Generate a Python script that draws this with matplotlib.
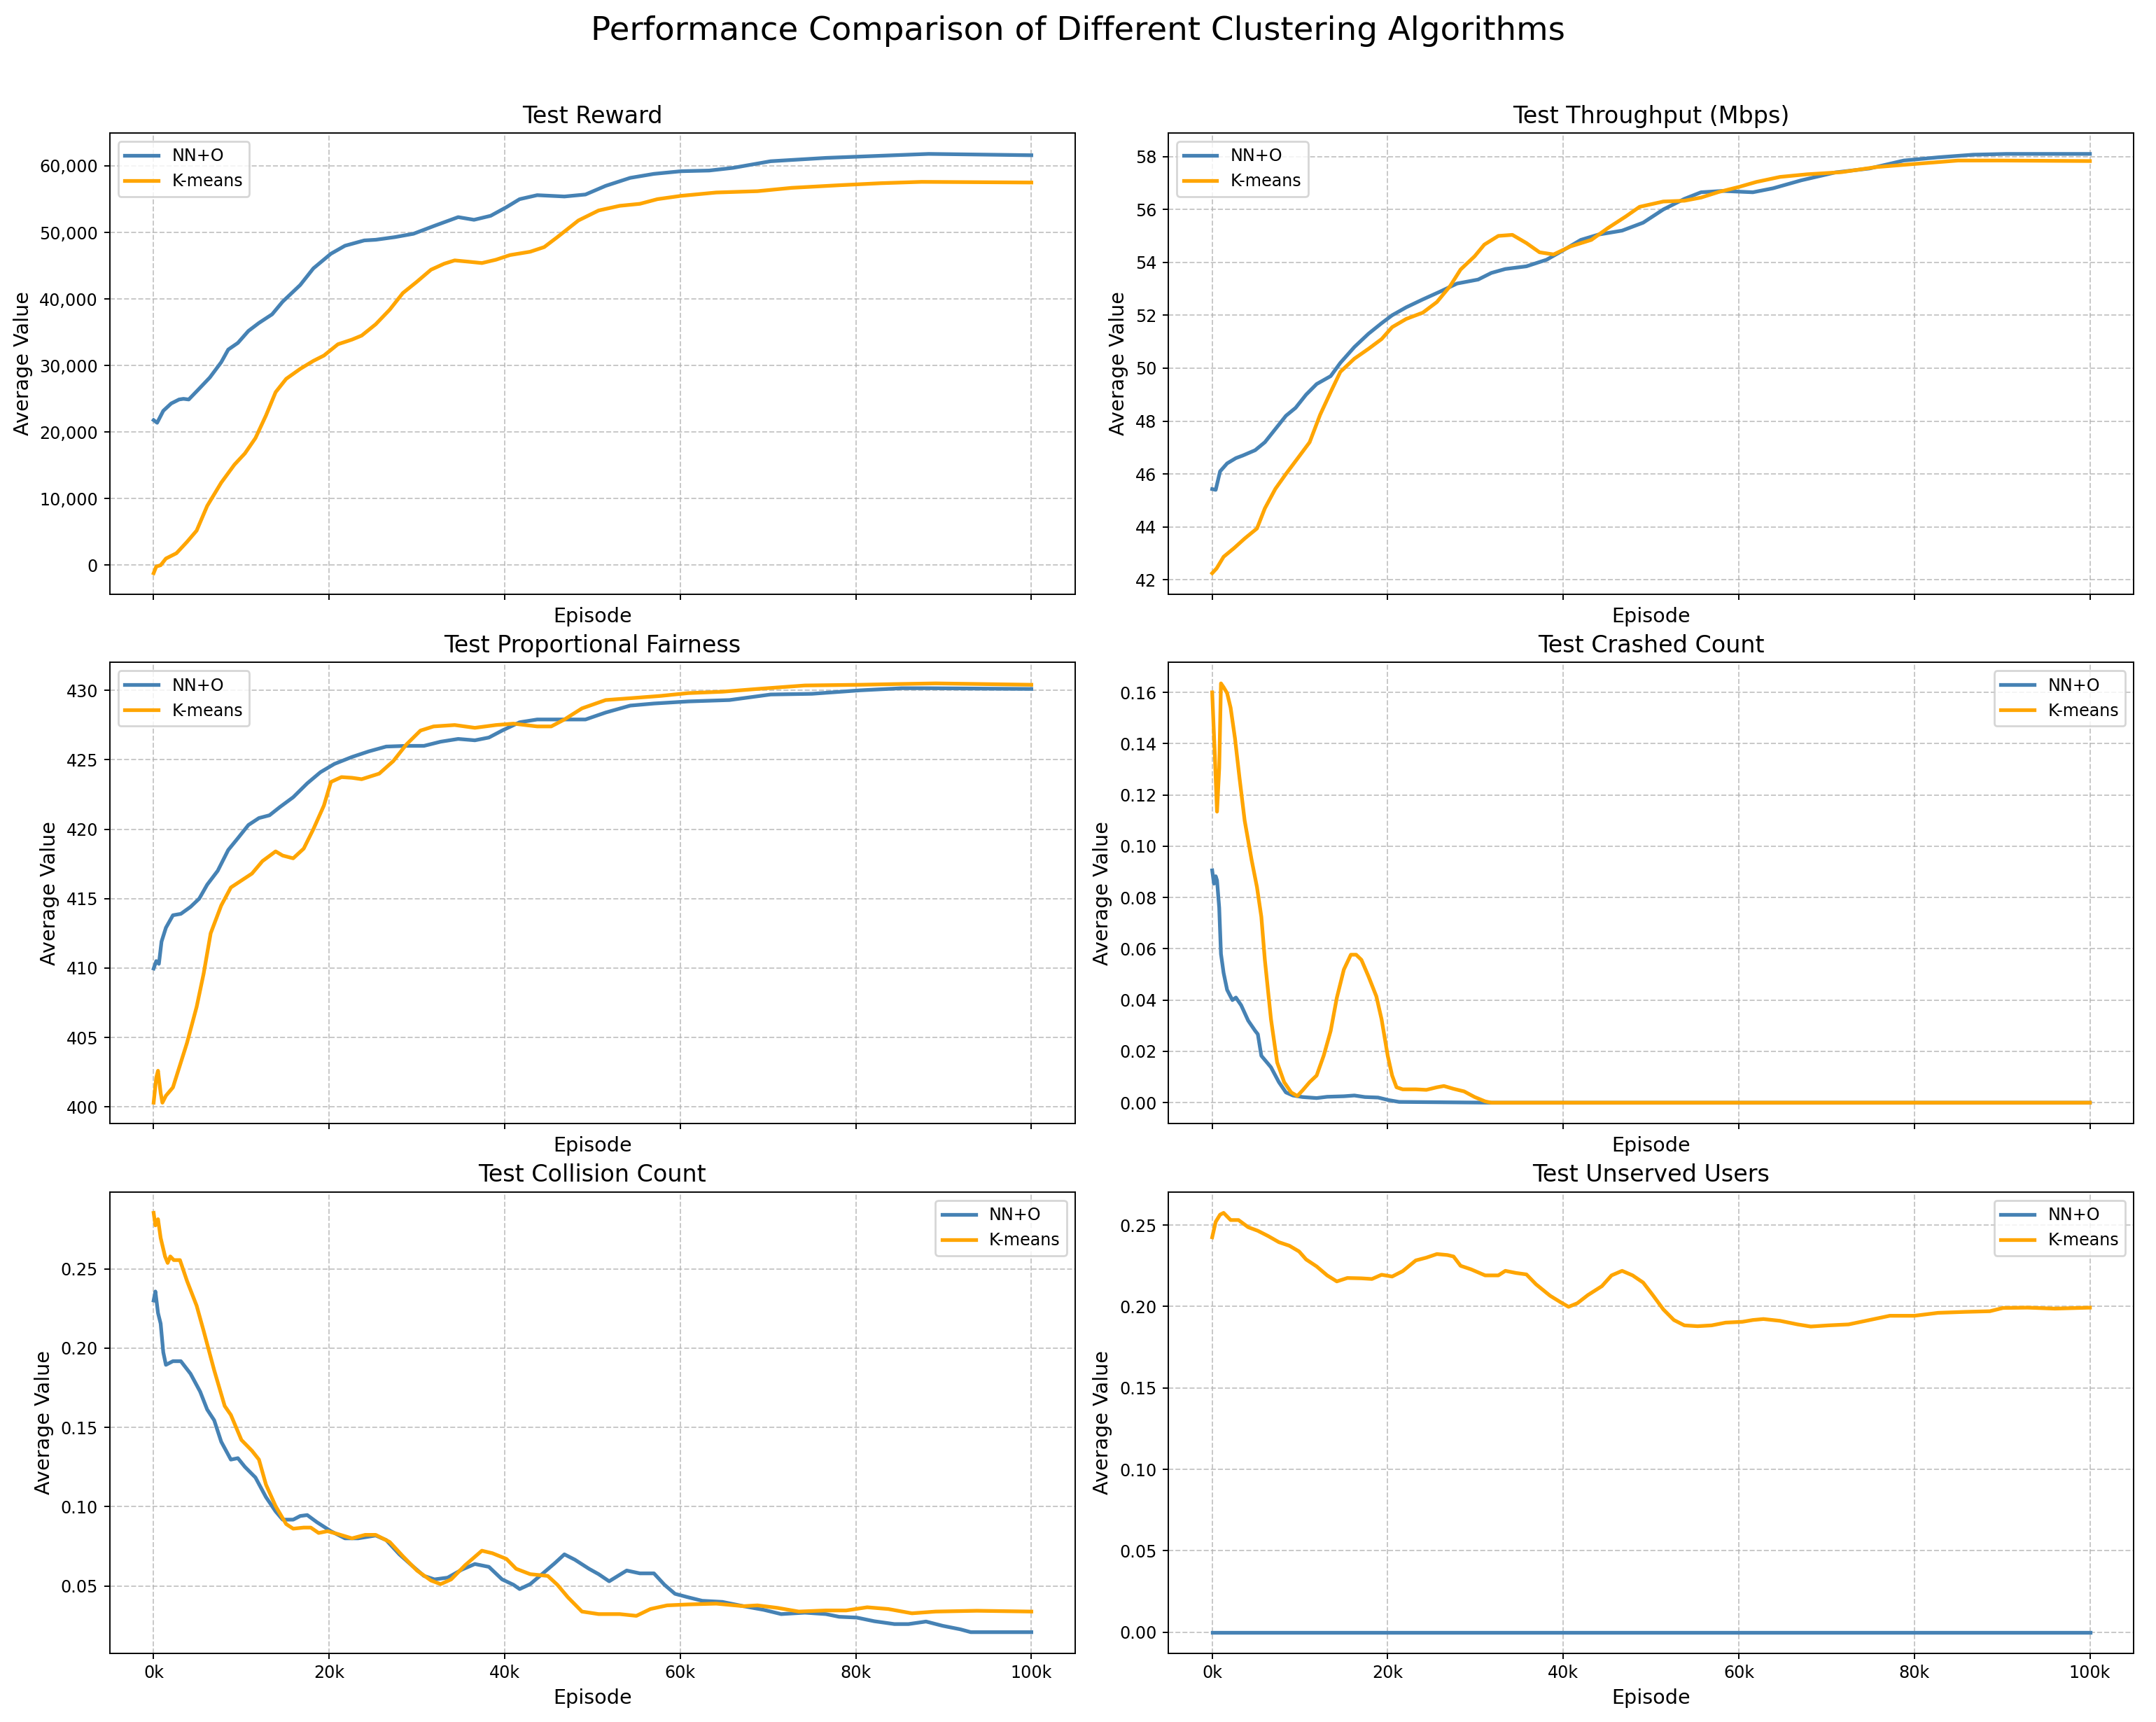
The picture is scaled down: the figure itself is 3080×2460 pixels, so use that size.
import matplotlib
matplotlib.use("Agg")
import matplotlib.pyplot as plt
from matplotlib.ticker import FuncFormatter

# ---------------- data (episode in thousands) ----------------
reward_nn_x = [0, 0.4, 1.1, 2.0, 2.9, 3.4, 4.0, 5.1, 6.4, 7.7, 8.5, 9.6, 10.8, 12.0, 13.5, 14.7, 16.7, 18.2, 20.2,
               21.8, 24.0, 25.3, 27.5, 29.6, 32.0, 34.7, 36.5, 38.4, 40.2, 41.7, 43.7, 46.8, 49.2, 51.5, 54.3, 57.0,
               60.1, 63.3, 66.0, 70.3, 76.6, 80.5, 84.4, 88.3, 100]
reward_nn_y = [21800, 21400, 23200, 24300, 24900, 25000, 24900, 26400, 28200, 30500, 32400, 33400, 35200, 36400,
               37700, 39600, 42100, 44600, 46800, 48000, 48800, 48900, 49300, 49800, 51000, 52300, 51900, 52500,
               53800, 55000, 55600, 55400, 55700, 57000, 58200, 58800, 59200, 59300, 59700, 60700, 61200, 61400,
               61600, 61800, 61600]
reward_km_x = [0, 0.3, 0.8, 1.4, 2.6, 3.8, 4.9, 6.1, 7.7, 9.2, 10.4, 11.6, 12.8, 13.9, 15.1, 16.7, 18.2, 19.4, 21.0,
               22.6, 23.7, 25.3, 26.9, 28.4, 30.0, 31.6, 33.1, 34.3, 35.9, 37.4, 39.0, 40.6, 42.9, 44.5, 46.0, 48.4,
               50.7, 53.1, 55.4, 57.4, 60.1, 64.1, 68.8, 72.7, 78.2, 82.9, 87.5, 100]
reward_km_y = [-1200, -200, 0, 1000, 1800, 3500, 5200, 8900, 12400, 15100, 16800, 19100, 22500, 26000, 28000,
               29500, 30700, 31500, 33200, 33900, 34500, 36200, 38400, 40900, 42600, 44400, 45300, 45800, 45600,
               45400, 45900, 46600, 47100, 47800, 49300, 51800, 53300, 54000, 54300, 55000, 55500, 56000, 56200,
               56700, 57100, 57400, 57600, 57500]

thr_nn_x = [0, 0.4, 0.9, 1.7, 2.7, 3.5, 4.9, 6.0, 7.2, 8.4, 9.5, 10.7, 11.9, 13.5, 14.6, 16.2, 17.8, 19.3, 20.5,
            22.1, 24.0, 26.0, 27.9, 30.3, 31.8, 33.4, 35.8, 38.1, 39.7, 42.0, 44.0, 46.7, 49.1, 51.4, 53.8, 55.7,
            58.1, 61.6, 63.9, 67.1, 71.0, 74.9, 78.8, 82.7, 86.7, 90.5, 100]
thr_nn_y = [45.43, 45.4, 46.1, 46.4, 46.6, 46.7, 46.9, 47.2, 47.7, 48.2, 48.5, 49.0, 49.4, 49.7, 50.2, 50.8, 51.3,
            51.7, 52.0, 52.3, 52.6, 52.9, 53.2, 53.35, 53.6, 53.75, 53.85, 54.1, 54.4, 54.85, 55.05, 55.2, 55.5,
            56.0, 56.4, 56.65, 56.7, 56.65, 56.8, 57.1, 57.4, 57.55, 57.85, 57.97, 58.07, 58.1, 58.1]
thr_km_x = [0, 0.5, 1.3, 2.5, 3.7, 5.1, 6.0, 7.2, 8.4, 9.8, 11.1, 12.3, 13.5, 14.6, 16.2, 17.8, 19.3, 20.5, 22.1,
            24.0, 25.6, 27.1, 28.3, 29.9, 31.0, 32.6, 34.2, 35.8, 37.3, 38.9, 40.8, 43.2, 45.1, 47.1, 48.7, 51.4,
            53.8, 55.7, 57.7, 60.0, 62.0, 64.7, 67.8, 71.7, 75.6, 80.4, 85.0, 89.8, 100]
thr_km_y = [42.25, 42.43, 42.87, 43.2, 43.56, 43.94, 44.7, 45.44, 46.0, 46.62, 47.2, 48.24, 49.1, 49.86, 50.36,
            50.73, 51.1, 51.55, 51.86, 52.1, 52.5, 53.1, 53.73, 54.23, 54.67, 55.0, 55.04, 54.73, 54.38, 54.3,
            54.6, 54.85, 55.3, 55.73, 56.1, 56.3, 56.33, 56.45, 56.66, 56.85, 57.04, 57.23, 57.33, 57.41, 57.6,
            57.73, 57.85, 57.85, 57.83]

pf_nn_x = [0, 0.3, 0.6, 0.9, 1.4, 2.2, 3.1, 4.2, 5.2, 6.1, 7.3, 8.5, 9.6, 10.8, 12.0, 13.2, 14.4, 15.9, 17.5, 19.0,
           20.6, 22.6, 24.5, 26.5, 28.8, 30.8, 32.7, 34.7, 36.6, 38.2, 39.7, 41.7, 43.7, 45.3, 49.2, 51.5, 54.3,
           57.0, 60.9, 65.6, 70.3, 75.0, 80.5, 85.2, 88.3, 100]
pf_nn_y = [409.96, 410.5, 410.3, 411.9, 412.9, 413.8, 413.9, 414.4, 415.0, 416.0, 417.0, 418.5, 419.35, 420.3,
           420.8, 421.0, 421.6, 422.3, 423.3, 424.1, 424.7, 425.2, 425.6, 425.95, 426.0, 426.0, 426.3, 426.5,
           426.4, 426.6, 427.1, 427.7, 427.9, 427.9, 427.9, 428.4, 428.9, 429.05, 429.2, 429.3, 429.7, 429.75,
           430.0, 430.15, 430.15, 430.1]
pf_km_x = [0, 0.3, 0.5, 0.8, 1.0, 1.4, 2.2, 3.0, 3.8, 4.9, 5.7, 6.5, 7.7, 8.8, 10.0, 11.2, 12.4, 13.9, 14.7, 15.9,
           17.1, 18.2, 19.4, 20.2, 21.4, 22.6, 23.7, 25.7, 27.3, 28.8, 30.4, 31.9, 34.3, 36.6, 39.0, 41.0, 43.7,
           45.3, 46.8, 48.8, 51.5, 54.7, 57.8, 60.9, 64.8, 68.8, 74.2, 80.5, 84.4, 89.1, 100]
pf_km_y = [400.3, 402.1, 402.6, 401.0, 400.3, 400.8, 401.4, 403.0, 404.6, 407.2, 409.6, 412.5, 414.5, 415.8, 416.3,
           416.8, 417.7, 418.4, 418.1, 417.9, 418.6, 420.0, 421.7, 423.4, 423.75, 423.7, 423.6, 424.0, 424.9,
           426.1, 427.1, 427.4, 427.5, 427.3, 427.5, 427.6, 427.4, 427.4, 427.9, 428.7, 429.3, 429.45, 429.6,
           429.8, 429.9, 430.1, 430.35, 430.4, 430.45, 430.5, 430.4]

crash_nn_x = [0, 0.2, 0.4, 0.55, 0.8, 1.0, 1.3, 1.7, 2.3, 2.7, 3.3, 4.1, 4.9, 5.2, 5.6, 6.7, 7.6, 8.4, 9.2, 10.3,
              11.9, 13.1, 15.0, 16.2, 17.4, 18.9, 20.1, 21.3, 31.8, 100]
crash_nn_y = [0.0906, 0.0854, 0.0883, 0.0867, 0.076, 0.058, 0.0506, 0.044, 0.040, 0.041, 0.038, 0.032, 0.028,
              0.0267, 0.0183, 0.0138, 0.008, 0.004, 0.0028, 0.0022, 0.0018, 0.0023, 0.0025, 0.0028, 0.0022, 0.002,
              0.001, 0.0003, 0.0, 0.0]
crash_km_x = [0, 0.3, 0.55, 0.8, 1.0, 1.3, 1.7, 2.1, 2.6, 3.1, 3.7, 4.5, 5.1, 5.6, 6.0, 6.7, 7.4, 8.2, 9.0, 9.7,
              10.3, 11.1, 11.9, 12.7, 13.5, 14.2, 15.0, 15.8, 16.4, 17.0, 17.8, 18.7, 19.3, 20.0, 20.5, 21.0, 21.7,
              23.2, 24.4, 25.6, 26.4, 27.5, 28.7, 29.9, 31.1, 31.8, 100]
crash_km_y = [0.160, 0.1355, 0.1135, 0.1305, 0.1635, 0.162, 0.1597, 0.154, 0.142, 0.127, 0.110, 0.0945, 0.0841,
              0.0725, 0.0557, 0.0325, 0.0157, 0.008, 0.004, 0.0026, 0.0048, 0.008, 0.0106, 0.0183, 0.028, 0.0409,
              0.0519, 0.0577, 0.0577, 0.0557, 0.0493, 0.0415, 0.0325, 0.0183, 0.0106, 0.006, 0.0052, 0.0052,
              0.005, 0.006, 0.0065, 0.0054, 0.0044, 0.0022, 0.0005, 0.0, 0.0]

coll_nn_x = [0, 0.2, 0.5, 0.8, 1.1, 1.4, 2.2, 3.1, 4.2, 5.3, 6.1, 6.9, 7.7, 8.8, 9.6, 10.4, 11.6, 12.8, 13.9, 14.7,
             15.9, 16.7, 17.5, 18.6, 20.2, 21.8, 23.3, 25.3, 26.5, 28.0, 29.6, 30.8, 32.0, 33.5, 35.1, 36.6, 38.2,
             39.7, 41.0, 41.7, 42.9, 44.5, 45.7, 46.8, 48.0, 49.6, 50.7, 51.9, 53.1, 53.9, 55.4, 57.0, 58.2, 59.4,
             60.9, 62.5, 64.8, 67.2, 69.5, 71.5, 74.2, 76.6, 78.1, 80.1, 82.1, 84.4, 86.0, 88.0, 89.9, 91.9, 93.1,
             100]
coll_nn_y = [0.2301, 0.2358, 0.2222, 0.2155, 0.1974, 0.1895, 0.1918, 0.1918, 0.1839, 0.1726, 0.1613, 0.1545,
             0.141, 0.1297, 0.1306, 0.1251, 0.1184, 0.106, 0.097, 0.0918, 0.0918, 0.0941, 0.0947, 0.0902, 0.0845,
             0.080, 0.080, 0.0818, 0.0789, 0.0699, 0.062, 0.0563, 0.0541, 0.0552, 0.0602, 0.0638, 0.062, 0.0541,
             0.0507, 0.048, 0.0511, 0.0586, 0.0643, 0.0699, 0.0665, 0.0608, 0.0574, 0.0529, 0.057, 0.0597, 0.0579,
             0.0579, 0.0507, 0.045, 0.0428, 0.0406, 0.0399, 0.0372, 0.0349, 0.0322, 0.0331, 0.0322, 0.0305, 0.030,
             0.0277, 0.0259, 0.0259, 0.0275, 0.0248, 0.0226, 0.0208, 0.0208]
coll_km_x = [0, 0.2, 0.5, 0.8, 1.3, 1.6, 1.9, 2.3, 3.0, 3.8, 4.9, 5.7, 6.9, 8.1, 8.8, 10.0, 11.2, 12.0, 12.8, 13.9,
             15.1, 15.9, 17.1, 17.9, 18.8, 19.8, 21.0, 22.6, 24.1, 25.3, 26.9, 28.4, 30.0, 31.6, 32.7, 33.9, 35.5,
             37.4, 38.6, 40.2, 41.3, 42.9, 44.9, 46.0, 47.2, 48.8, 50.7, 53.1, 55.0, 56.6, 58.5, 60.9, 64.1, 67.2,
             68.8, 71.1, 73.5, 76.6, 78.9, 81.3, 83.7, 86.4, 89.1, 93.8, 100]
coll_km_y = [0.2854, 0.2775, 0.2814, 0.2696, 0.2579, 0.2538, 0.2579, 0.2556, 0.2556, 0.2425, 0.2268, 0.2109,
             0.1861, 0.1635, 0.1579, 0.1421, 0.1353, 0.1297, 0.1139, 0.1003, 0.089, 0.0861, 0.0868, 0.0868, 0.0834,
             0.0845, 0.0827, 0.080, 0.0822, 0.0822, 0.0777, 0.0687, 0.0597, 0.0534, 0.0511, 0.0541, 0.0631, 0.0722,
             0.0706, 0.067, 0.0608, 0.0574, 0.0563, 0.0507, 0.0428, 0.0338, 0.0322, 0.0322, 0.0311, 0.0354,
             0.0377, 0.0383, 0.0388, 0.0372, 0.0377, 0.0361, 0.0338, 0.0345, 0.0345, 0.0365, 0.0354, 0.0327,
             0.0338, 0.0343, 0.0338]

uns_nn_x = [0, 100]
uns_nn_y = [0.0, 0.0]
uns_km_x = [0, 0.4, 0.9, 1.3, 2.1, 3.0, 4.1, 5.2, 6.4, 7.6, 8.8, 9.9, 10.7, 11.9, 13.1, 14.2, 15.4, 17.0, 18.2,
            19.3, 20.5, 21.7, 23.2, 24.4, 25.6, 26.8, 27.5, 28.3, 29.5, 31.1, 32.6, 33.4, 34.6, 35.8, 36.9, 38.5,
            39.7, 40.6, 41.6, 42.8, 44.4, 45.5, 46.7, 47.9, 49.1, 50.2, 51.4, 52.6, 53.8, 55.3, 56.9, 58.5, 60.4,
            61.6, 62.8, 64.7, 66.7, 68.2, 70.2, 72.5, 74.9, 77.2, 80.0, 82.7, 85.8, 88.6, 90.1, 92.9, 96.0, 100]
uns_km_y = [0.2425, 0.252, 0.2564, 0.2575, 0.2531, 0.2531, 0.2487, 0.2465, 0.2432, 0.2395, 0.2373, 0.2338, 0.2289,
            0.2246, 0.2191, 0.2154, 0.2175, 0.2173, 0.2169, 0.2195, 0.2184, 0.2217, 0.2283, 0.230, 0.2322, 0.2316,
            0.2307, 0.225, 0.2228, 0.2191, 0.2191, 0.2219, 0.2206, 0.2197, 0.2136, 0.2066, 0.2026, 0.1998, 0.202,
            0.207, 0.2125, 0.2191, 0.2219, 0.2191, 0.2147, 0.207, 0.1982, 0.1917, 0.1884, 0.1879, 0.1884, 0.1901,
            0.1906, 0.1917, 0.1923, 0.1912, 0.189, 0.1877, 0.1884, 0.189, 0.1917, 0.1943, 0.1943, 0.1961, 0.1967,
            0.1971, 0.1991, 0.1993, 0.1987, 0.1993]

titles = ["Test Reward", "Test Throughput (Mbps)", "Test Proportional Fairness",
          "Test Crashed Count", "Test Collision Count", "Test Unserved Users"]
series = [
    (reward_nn_x, reward_nn_y, reward_km_x, reward_km_y),
    (thr_nn_x, thr_nn_y, thr_km_x, thr_km_y),
    (pf_nn_x, pf_nn_y, pf_km_x, pf_km_y),
    (crash_nn_x, crash_nn_y, crash_km_x, crash_km_y),
    (coll_nn_x, coll_nn_y, coll_km_x, coll_km_y),
    (uns_nn_x, uns_nn_y, uns_km_x, uns_km_y),
]
legend_locs = ["upper left", "upper left", "upper left", "upper right", "upper right", "upper right"]
labels = ["NN+O", "K-means"]
colors = ["#4682B4", "#FFA500"]

s = 0.86  # overall scale of the original rendering
plt.rcParams.update({
    "axes.linewidth": 0.8 * s,
    "xtick.major.size": 3.5 * s, "ytick.major.size": 3.5 * s,
    "xtick.major.width": 0.8 * s, "ytick.major.width": 0.8 * s,
    "xtick.major.pad": 3.5 * s, "ytick.major.pad": 3.5 * s,
    "axes.titlepad": 6.0 * s, "axes.labelpad": 4.0 * s,
    "grid.linewidth": 0.8 * s,
})

fig, axes = plt.subplots(3, 2, figsize=(15.4, 12.3), dpi=200, sharex=True)
fig.subplots_adjust(left=0.0509, right=0.9897, top=0.9228, bottom=0.040, wspace=0.0964, hspace=0.148)
fig.suptitle("Performance Comparison of Different Clustering Algorithms", fontsize=16.8,
             y=1 - 56.7 / 2460, va="baseline")

for ax, title, (nx, ny, kx, ky), loc in zip(axes.flat, titles, series, legend_locs):
    ax.plot([v * 1000 for v in nx], ny, color=colors[0], linewidth=1.9, label=labels[0])
    ax.plot([v * 1000 for v in kx], ky, color=colors[1], linewidth=1.9, label=labels[1])
    ax.set_title(title, fontsize=14 * s)
    ax.set_xlabel("Episode", fontsize=12 * s)
    ax.set_ylabel("Average Value", fontsize=12 * s)
    ax.grid(True, linestyle="--", alpha=0.7)
    ax.legend(loc=loc, fontsize=10 * s)
    ax.xaxis.set_major_formatter(FuncFormatter(lambda v, p: f"{v/1000:.0f}k"))
    ax.tick_params(labelsize=10 * s)
    ax.tick_params(axis="x", labelbottom=True)

for ax in axes[:2].flat:
    ax.tick_params(axis="x", labelbottom=False)

axes[0, 0].yaxis.set_major_formatter(FuncFormatter(lambda v, p: f"{v:,.0f}"))

fig.savefig("out.png", dpi=200)
